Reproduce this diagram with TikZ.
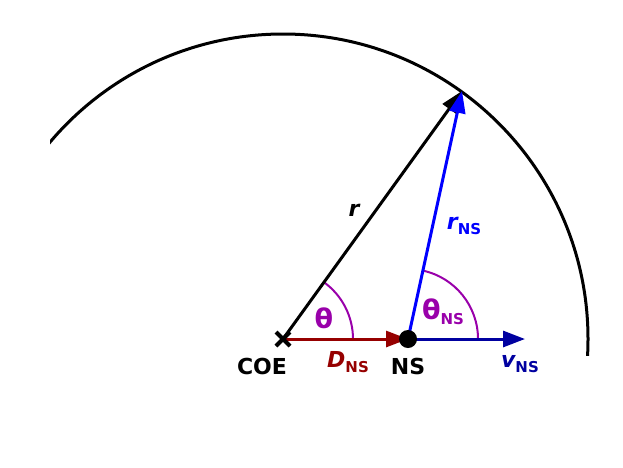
\documentclass[tikz,border=0pt]{standalone}
\usepackage{fontspec}
\setmainfont{DejaVu Sans}
\usetikzlibrary{arrows.meta,calc}
\definecolor{thetacol}{RGB}{153,0,170}
\definecolor{dcol}{RGB}{150,0,0}
\definecolor{vcol}{RGB}{0,0,160}
\definecolor{rnscol}{RGB}{0,0,255}
\tikzset{
  vec/.style={line width=3pt,-{Triangle[length=22pt,width=16pt]}},
  anglearc/.style={thetacol,line width=2pt},
  lab/.style={font=\fontsize{22}{26}\selectfont\bfseries,inner sep=0pt},
}
\newcommand{\subNS}{\raisebox{-5pt}{\fontsize{15}{15}\selectfont NS}}
\newcommand{\bigth}{{\fontsize{27}{30}\selectfont θ}}
\begin{document}
\begin{tikzpicture}[x=1pt,y=-1pt]
\useasboundingbox (0,0) rectangle (623,467);
\coordinate (coe) at (283,339);
\coordinate (ns) at (408,339);
\coordinate (tip) at (462,91);
\coordinate (vend) at (525,339);
% circle arc
\begin{scope}
\clip (50,0) rectangle (623,355);
\draw[line width=3pt] (coe) circle[radius=305];
\end{scope}
% angle arcs
\draw[anglearc] ($(coe)+(70,0)$) arc[start angle=0,end angle=-54.17,radius=70];
\draw[anglearc] ($(ns)+(70,0)$) arc[start angle=0,end angle=-77.7,radius=70];
% vectors
\draw[vec,black] (coe) -- (tip);
\draw[vec,rnscol] (ns) -- (tip);
\draw[vec,vcol] (ns) -- (vend);
\draw[vec,dcol] (coe) -- (ns);
% markers
\draw[line width=4pt] ($(coe)+(-7,-7)$) -- ($(coe)+(7,7)$) ($(coe)+(-7,7)$) -- ($(coe)+(7,-7)$);
\fill (ns) circle[radius=9];
% labels
\node[lab] (lcoe) at (262,366) {COE};
\node[lab] (lns) at (408,366) {NS};
\node[lab,dcol] (ld) at (348,362) {\itshape D\upshape\subNS};
\node[lab,vcol] (lv) at (520,364) {\itshape v\upshape\subNS};
\node[lab] (lr) at (354,210) {\itshape r};
\node[lab,rnscol] (lrns) at (464,226) {\itshape r\upshape\subNS};
\node[lab,thetacol] (lth) at (324,318) {\bigth};
\node[lab,thetacol] (lthns) at (443,312) {\bigth\subNS};
\end{tikzpicture}
\end{document}
